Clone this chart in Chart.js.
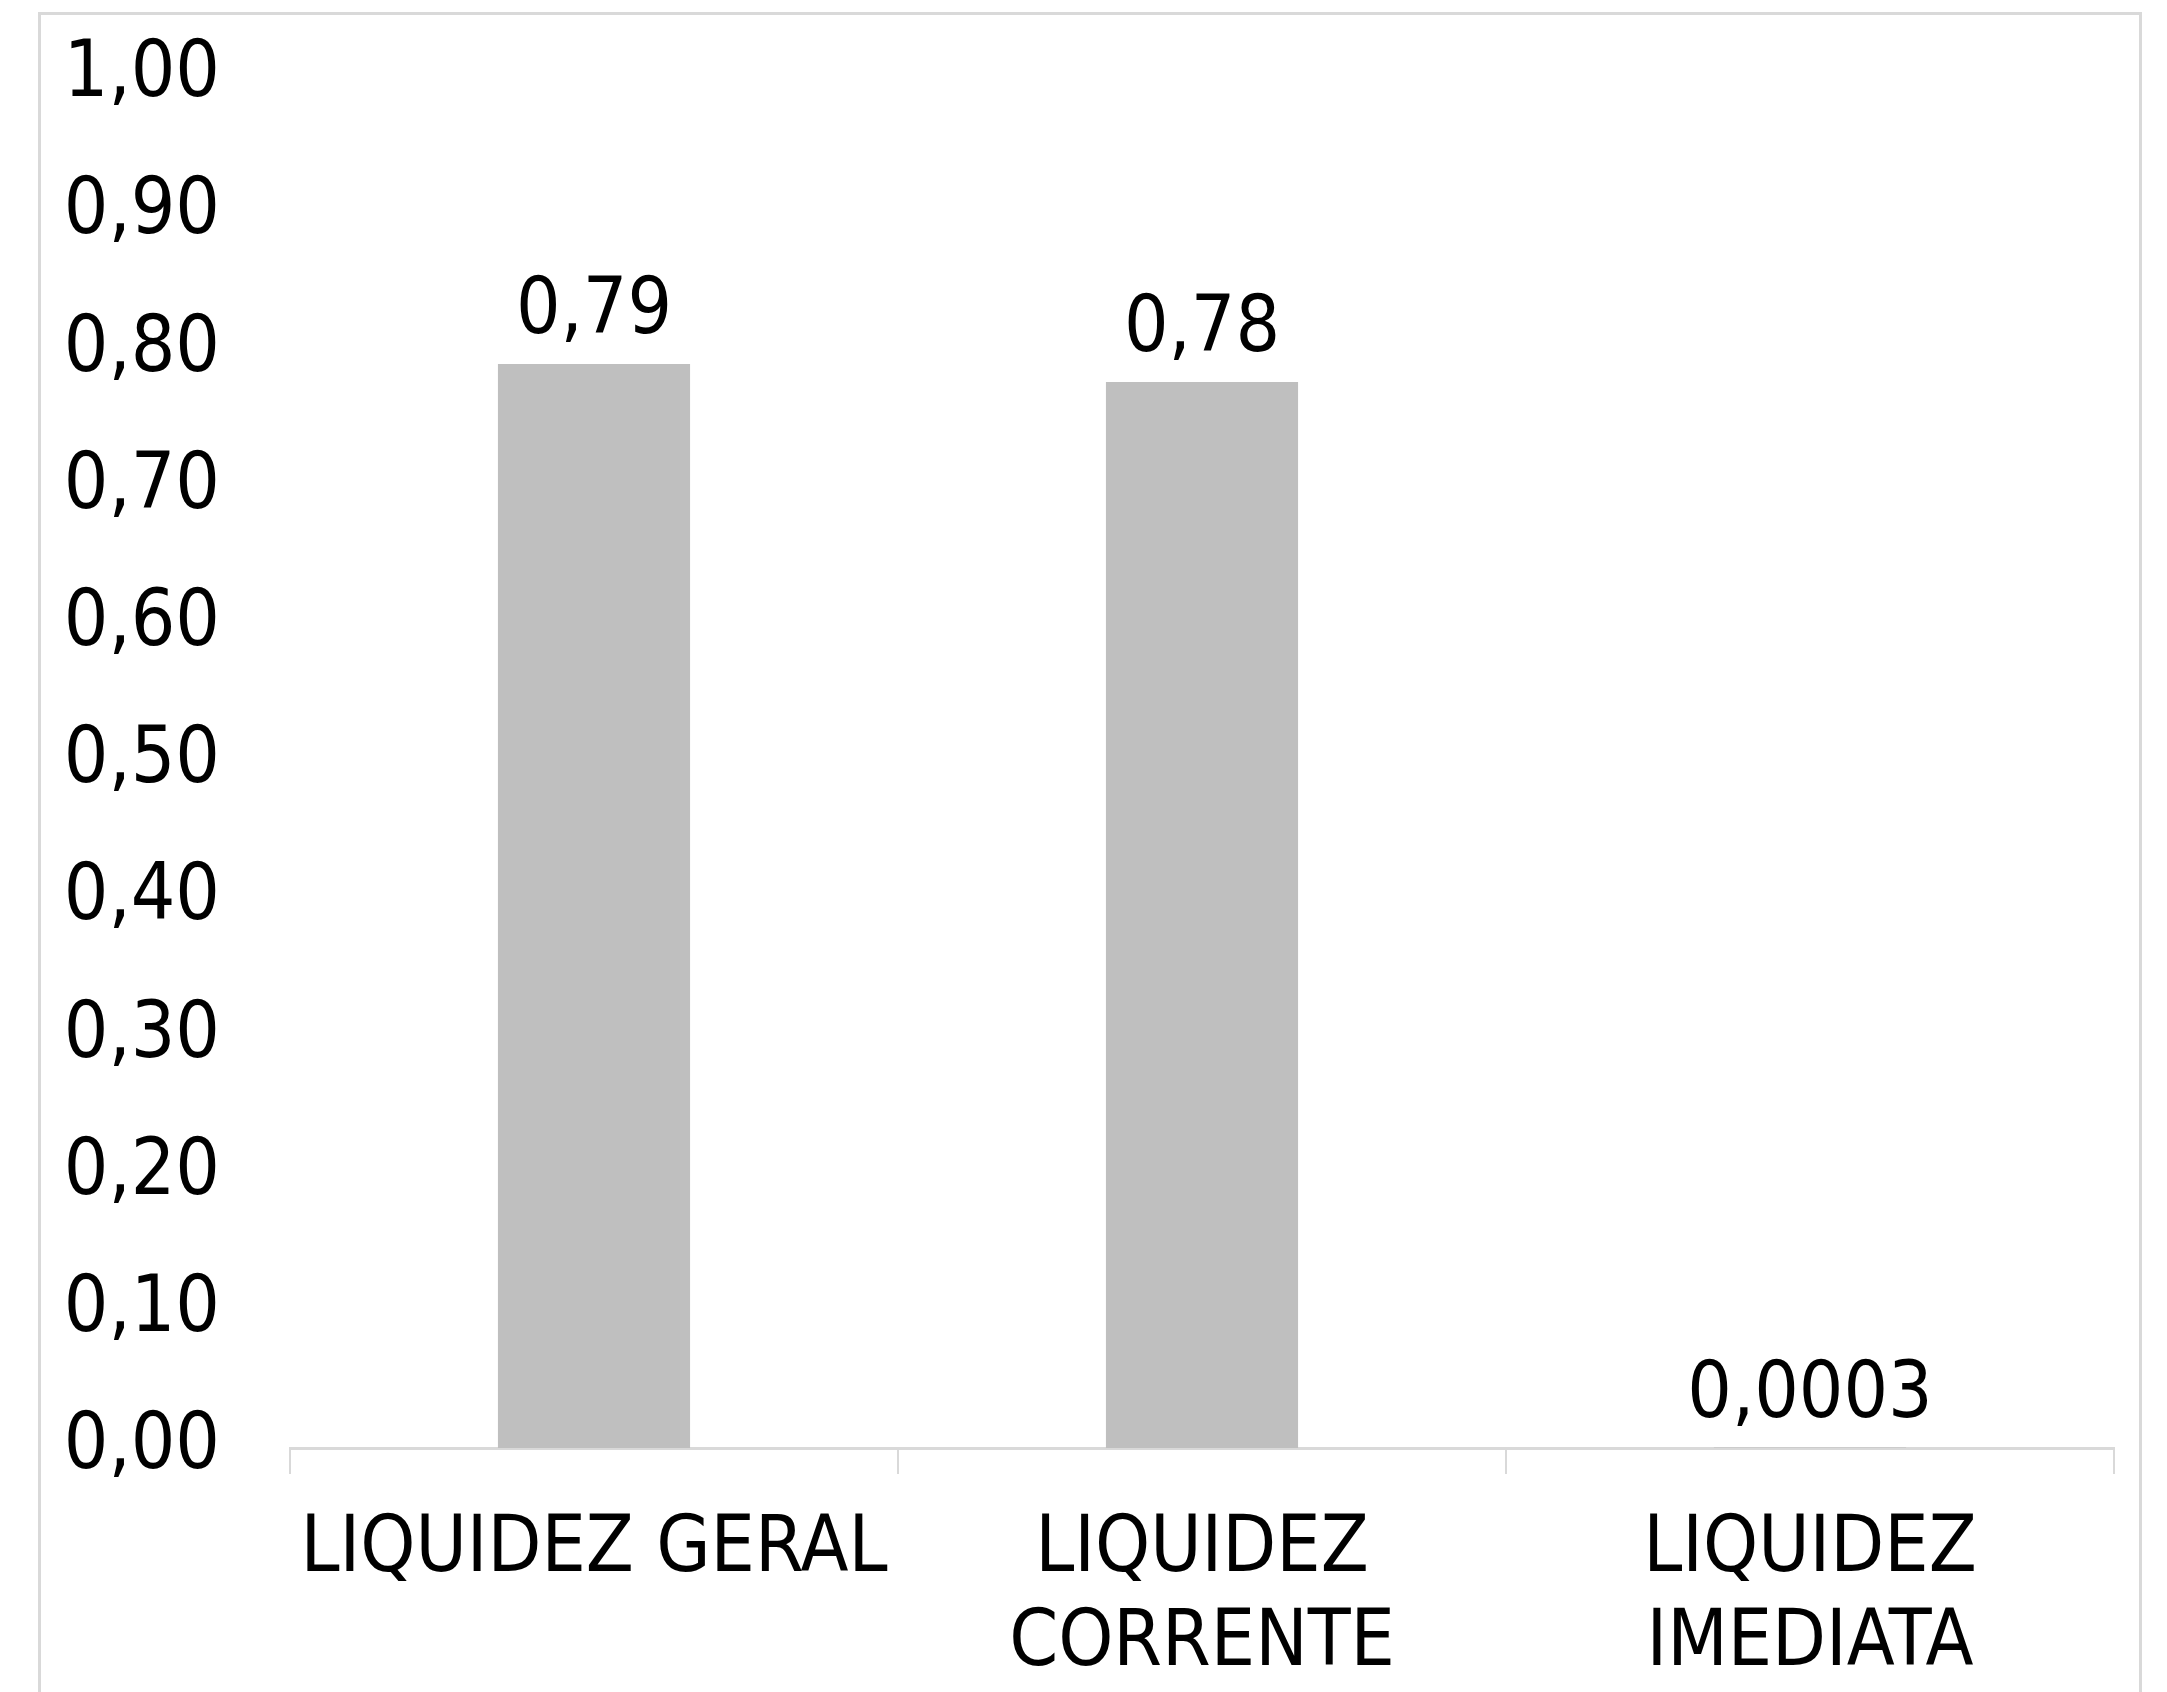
<!DOCTYPE html>
<html>
<head>
<meta charset="utf-8">
<script src="https://cdn.jsdelivr.net/npm/chart.js@4.4.1/dist/chart.umd.min.js"></script>
<style>
    html, body { margin: 0; padding: 0; background: #fff; overflow: hidden; width: 2167px; height: 1692px; }
    #frame { position: absolute; left: 38px; top: 12px; width: 2098px; height: 1700px; border: 3px solid #d9d9d9; }
    canvas { display: block; }
</style>
</head>
<body>
<div id="frame"><canvas id="liqChart" width="2098" height="1677"></canvas></div>
<script>
// Índices de liquidez
const categories = [['LIQUIDEZ GERAL'], ['LIQUIDEZ', 'CORRENTE'], ['LIQUIDEZ', 'IMEDIATA']];
const values = [0.79, 0.777, 0.0003];
const yMin = 0, yMax = 1, yStep = 0.1;

const FONT = '"DejaVu Sans Condensed", "DejaVu Sans", sans-serif';

function fmt(v, dec) {
    return v.toFixed(dec).replace('.', ',');
}

// rótulos de dados acima das barras
const valueLabels = {
    id: 'valueLabels',
    afterDatasetsDraw(chart) {
        const ctx = chart.ctx;
        const meta = chart.getDatasetMeta(0);
        ctx.save();
        ctx.font = '78px ' + FONT;
        ctx.fillStyle = '#000';
        ctx.textAlign = 'center';
        ctx.textBaseline = 'alphabetic';
        meta.data.forEach((bar, i) => {
            const v = values[i];
            const txt = v >= 0.01 ? fmt(v, 2) : fmt(v, 4);
            ctx.fillText(txt, bar.x, bar.y - 31);
        });
        ctx.restore();
    }
};

(function(){
    const ctx = document.getElementById('liqChart');
    new Chart(ctx, {
        type: 'bar',
        data: {
            labels: categories,
            datasets: [{
                data: values,
                backgroundColor: '#bfbfbf',
                borderWidth: 0,
                categoryPercentage: 1,
                barPercentage: 0.316
            }]
        },
        options: {
            responsive: false,
            animation: false,
            layout: { padding: { top: 0, right: 25, left: 0, bottom: 0 } },
            scales: {
                x: {
                    grid: { display: true, drawOnChartArea: false, drawTicks: true, tickLength: 26, color: '#d9d9d9', lineWidth: 2 },
                    border: { display: true, color: '#d9d9d9', width: 3 },
                    ticks: { color: '#000', font: { family: FONT, size: 78, lineHeight: 1.2 }, padding: 30, maxRotation: 0, autoSkip: false },
                    afterFit: s => { s.height = 244; }
                },
                y: {
                    min: yMin,
                    max: yMax,
                    // grade oculta; tickLength só afasta os rótulos do eixo
                    grid: { display: false, drawTicks: true, tickLength: 52 },
                    border: { display: false },
                    ticks: {
                        stepSize: yStep,
                        color: '#000',
                        font: { family: FONT, size: 78, lineHeight: 1.1 },
                        padding: 18,
                        callback: v => fmt(v, 2)
                    },
                    afterFit: s => { s.width = 249; }
                }
            },
            plugins: {
                legend: { display: false },
                tooltip: { enabled: false }
            }
        },
        plugins: [valueLabels]
    });
})();
</script>
</body>
</html>
